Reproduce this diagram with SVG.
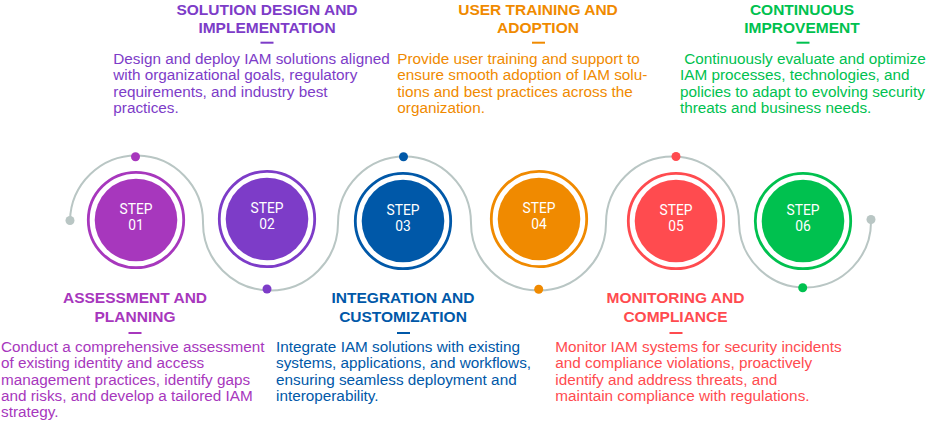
<svg xmlns="http://www.w3.org/2000/svg" width="938" height="425" viewBox="0 0 938 425">
<style>
.ring{fill:none;stroke-width:2.8}
.st{font-family:Roboto,"Liberation Sans",sans-serif;font-size:13.8px;font-weight:400;fill:#fff;text-anchor:middle}
.tt{font-family:"Liberation Sans",Arial,sans-serif;font-size:15.5px;font-weight:bold;text-anchor:middle}
.bd{font-family:"Liberation Sans",Arial,sans-serif;font-size:15.3px}
.c1{fill:#A737BD}.c2{fill:#7D3CC8}.c3{fill:#0058A8}.c4{fill:#F08A00}.c5{fill:#FF4B4F}.c6{fill:#00C14F}
.s1{stroke:#A737BD}.s2{stroke:#7D3CC8}.s3{stroke:#0058A8}.s4{stroke:#F08A00}.s5{stroke:#FF4B4F}.s6{stroke:#00C14F}
</style>
<g id="connectors">
<path d="M70,221 A66.5,66.5 0 0 1 203,223 A67.5,67.5 0 0 0 338,223 A66.5,66.5 0 0 1 471,223 A67.5,67.5 0 0 0 606,223 A66.5,66.5 0 0 1 739,223 A66,66 0 0 0 871,220" fill="none" stroke="#B9C6C4" stroke-width="2"/>
<circle cx="70" cy="220.5" r="4.5" fill="#B9C6C4"/>
<circle cx="871" cy="219.5" r="4.5" fill="#B9C6C4"/>
<circle cx="135.5" cy="156.8" r="4.5" class="c1"/>
<circle cx="267" cy="289" r="4.5" class="c2"/>
<circle cx="403.5" cy="156.8" r="4.5" class="c3"/>
<circle cx="538.7" cy="289.3" r="4.5" class="c4"/>
<circle cx="676" cy="156.5" r="4.5" class="c5"/>
<circle cx="802.7" cy="287.8" r="4.5" class="c6"/>
</g>
<g id="step01">
<circle cx="136" cy="220" r="47.7" class="ring s1"/>
<circle cx="136" cy="220" r="41.3" class="c1"/>
<text x="136" y="213.7" class="st">STEP</text>
<text x="136" y="229.5" class="st">01</text>
</g>
<g id="step02">
<circle cx="267" cy="219" r="47.7" class="ring s2"/>
<circle cx="267" cy="219" r="41.3" class="c2"/>
<text x="267" y="212.7" class="st">STEP</text>
<text x="267" y="228.5" class="st">02</text>
</g>
<g id="step03">
<circle cx="403" cy="221" r="47.7" class="ring s3"/>
<circle cx="403" cy="221" r="41.3" class="c3"/>
<text x="403" y="214.7" class="st">STEP</text>
<text x="403" y="230.5" class="st">03</text>
</g>
<g id="step04">
<circle cx="539" cy="219" r="47.7" class="ring s4"/>
<circle cx="539" cy="219" r="41.3" class="c4"/>
<text x="539" y="212.7" class="st">STEP</text>
<text x="539" y="228.5" class="st">04</text>
</g>
<g id="step05">
<circle cx="676" cy="221" r="47.7" class="ring s5"/>
<circle cx="676" cy="221" r="41.3" class="c5"/>
<text x="676" y="214.7" class="st">STEP</text>
<text x="676" y="230.5" class="st">05</text>
</g>
<g id="step06">
<circle cx="803" cy="221" r="47.7" class="ring s6"/>
<circle cx="803" cy="221" r="41.3" class="c6"/>
<text x="803" y="214.7" class="st">STEP</text>
<text x="803" y="230.5" class="st">06</text>
</g>
<g id="text-assessment" class="c1">
<text x="135" y="303" class="tt">ASSESSMENT AND</text>
<text x="135" y="322.3" class="tt">PLANNING</text>
<rect x="128.5" y="332" width="13" height="2"/>
<text class="bd"><tspan x="1" y="352">Conduct a comprehensive assessment</tspan><tspan x="1" y="368.3">of existing identity and access</tspan><tspan x="1" y="384.6">management practices, identify gaps</tspan><tspan x="1" y="401">and risks, and develop a tailored IAM</tspan><tspan x="1" y="417.3">strategy.</tspan></text>
</g>
<g id="text-solution" class="c2">
<text x="267" y="14.5" class="tt">SOLUTION DESIGN AND</text>
<text x="267" y="32.5" class="tt">IMPLEMENTATION</text>
<rect x="260.5" y="41.7" width="13" height="2"/>
<text class="bd"><tspan x="113.3" y="64">Design and deploy IAM solutions aligned</tspan><tspan x="113.3" y="80.3">with organizational goals, regulatory</tspan><tspan x="113.3" y="96.6">requirements, and industry best</tspan><tspan x="113.3" y="113">practices.</tspan></text>
</g>
<g id="text-integration" class="c3">
<text x="403" y="303" class="tt">INTEGRATION AND</text>
<text x="403" y="322.3" class="tt">CUSTOMIZATION</text>
<rect x="397" y="332" width="13" height="2"/>
<text class="bd"><tspan x="276" y="352">Integrate IAM solutions with existing</tspan><tspan x="276" y="368.3">systems, applications, and workflows,</tspan><tspan x="276" y="384.6">ensuring seamless deployment and</tspan><tspan x="276" y="401">interoperability.</tspan></text>
</g>
<g id="text-training" class="c4">
<text x="538" y="14.5" class="tt">USER TRAINING AND</text>
<text x="538" y="32.5" class="tt">ADOPTION</text>
<rect x="532" y="41.7" width="13" height="2"/>
<text class="bd"><tspan x="397.3" y="64">Provide user training and support to</tspan><tspan x="397.3" y="80.3">ensure smooth adoption of IAM solu-</tspan><tspan x="397.3" y="96.6">tions and best practices across the</tspan><tspan x="397.3" y="113">organization.</tspan></text>
</g>
<g id="text-monitoring" class="c5">
<text x="675.5" y="303" class="tt">MONITORING AND</text>
<text x="675.5" y="322.3" class="tt">COMPLIANCE</text>
<rect x="669.5" y="332" width="13" height="2"/>
<text class="bd"><tspan x="555.3" y="352">Monitor IAM systems for security incidents</tspan><tspan x="555.3" y="368.3">and compliance violations, proactively</tspan><tspan x="555.3" y="384.6">identify and address threats, and</tspan><tspan x="555.3" y="401">maintain compliance with regulations.</tspan></text>
</g>
<g id="text-improvement" class="c6">
<text x="802" y="14.5" class="tt">CONTINUOUS</text>
<text x="802" y="32.5" class="tt">IMPROVEMENT</text>
<rect x="796.5" y="41.7" width="13" height="2"/>
<text class="bd" xml:space="preserve"><tspan x="680" y="64"> Continuously evaluate and optimize</tspan><tspan x="680" y="80.3">IAM processes, technologies, and</tspan><tspan x="680" y="96.6">policies to adapt to evolving security</tspan><tspan x="680" y="113">threats and business needs.</tspan></text>
</g>
</svg>
